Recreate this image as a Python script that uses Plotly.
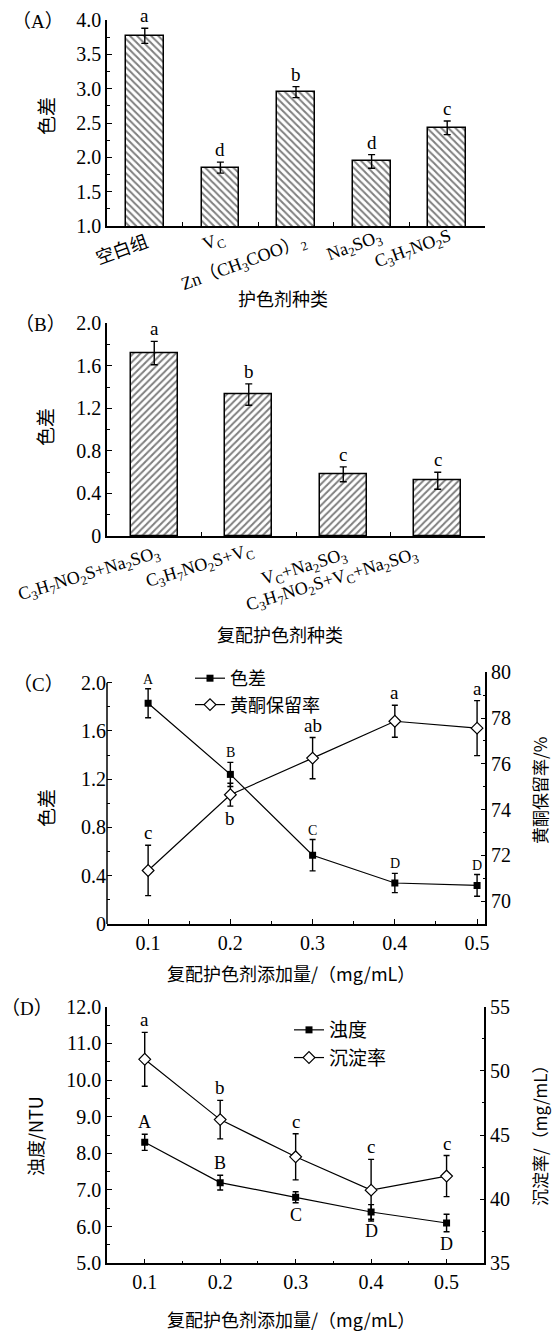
import plotly.graph_objects as go

W, H = 552, 1331
SERIF = "'Liberation Serif', 'Noto Sans CJK SC', serif"
CJK = "'Noto Sans CJK SC', 'Liberation Serif', sans-serif"

# (A) single colour-protecting agents
agents_a = ["空白组", "V<sub>C</sub>", "Zn（CH<sub>3</sub>COO）<sub>2</sub>",
            "Na<sub>2</sub>SO<sub>3</sub>", "C<sub>3</sub>H<sub>7</sub>NO<sub>2</sub>S"]
diff_a = [3.77, 1.85, 2.95, 1.94, 2.43]
err_a = [0.11, 0.08, 0.08, 0.10, 0.10]
sig_a = ["a", "d", "b", "d", "c"]

# (B) compound agents
agents_b = ["C<sub>3</sub>H<sub>7</sub>NO<sub>2</sub>S+Na<sub>2</sub>SO<sub>3</sub>",
            "C<sub>3</sub>H<sub>7</sub>NO<sub>2</sub>S+V<sub>C</sub>",
            "V<sub>C</sub>+Na<sub>2</sub>SO<sub>3</sub>",
            "C<sub>3</sub>H<sub>7</sub>NO<sub>2</sub>S+V<sub>C</sub>+Na<sub>2</sub>SO<sub>3</sub>"]
diff_b = [1.72, 1.33, 0.58, 0.52]
err_b = [0.11, 0.10, 0.07, 0.08]
sig_b = ["a", "b", "c", "c"]

# (C) and (D) dosage series, mg/mL
dose = [0.1, 0.2, 0.3, 0.4, 0.5]

diff_c = [1.83, 1.24, 0.57, 0.34, 0.32]
diff_c_err = [0.12, 0.10, 0.13, 0.08, 0.09]
diff_c_sig = ["A", "B", "C", "D", "D"]
flav_c = [71.34, 74.65, 76.25, 77.86, 77.56]
flav_c_err = [1.1, 0.5, 0.9, 0.7, 1.2]
flav_c_sig = ["c", "b", "ab", "a", "a"]

turb_d = [8.3, 7.2, 6.8, 6.4, 6.1]
turb_d_err = [0.22, 0.20, 0.15, 0.20, 0.24]
turb_d_sig = ["A", "B", "C", "D", "D"]
sed_d = [50.9, 46.2, 43.3, 40.7, 41.8]
sed_d_err = [2.1, 1.5, 1.8, 2.4, 1.6]
sed_d_sig = ["a", "b", "c", "c", "c"]

# tick labels
ticks_b = [0, 0.4, 0.8, 1.2, 1.6, 2.0]
ticktext_b = ["0", "0.4", "0.8", "1.2", "1.6", "2.0"]
ticks_c_right = [70, 72, 74, 76, 78, 80]
ticks_d_right = [35, 40, 45, 50, 55]


def px(x):
    return x / W


def py(y):
    return 1 - y / H


def err(arr, w=3.5):
    return dict(type="data", array=arr, color="black", thickness=1.4, width=w)


fig = go.Figure()

fig.add_trace(go.Bar(
    x=agents_a, y=diff_a, width=0.5, xaxis="x", yaxis="y", showlegend=False,
    marker=dict(color="white", line=dict(color="black", width=1.5),
                pattern=dict(shape="\\", fgcolor="black", bgcolor="white", size=5, solidity=0.4)),
    error_y=err(err_a)))

fig.add_trace(go.Bar(
    x=agents_b, y=diff_b, width=0.5, xaxis="x2", yaxis="y2", showlegend=False,
    marker=dict(color="white", line=dict(color="black", width=1.5),
                pattern=dict(shape="/", fgcolor="black", bgcolor="white", size=5, solidity=0.4)),
    error_y=err(err_b)))

sq = dict(symbol="square", size=7, color="black")
dm = dict(symbol="diamond", size=9, color="white", line=dict(color="black", width=1.2))
ln = dict(color="black", width=1.2)

fig.add_trace(go.Scatter(x=dose, y=diff_c, mode="lines+markers", name="色差",
                         line=ln, marker=sq, error_y=err(diff_c_err, 3),
                         xaxis="x3", yaxis="y3", legend="legend"))
fig.add_trace(go.Scatter(x=dose, y=flav_c, mode="lines+markers", name="黄酮保留率",
                         line=ln, marker=dm, error_y=err(flav_c_err, 3),
                         xaxis="x3", yaxis="y4", legend="legend"))
fig.add_trace(go.Scatter(x=dose, y=turb_d, mode="lines+markers", name="浊度",
                         line=ln, marker=sq, error_y=err(turb_d_err, 3),
                         xaxis="x4", yaxis="y5", legend="legend2"))
fig.add_trace(go.Scatter(x=dose, y=sed_d, mode="lines+markers", name="沉淀率",
                         line=ln, marker=dm, error_y=err(sed_d_err, 3),
                         xaxis="x4", yaxis="y6", legend="legend2"))

tickfont = dict(family=SERIF, size=20, color="black")
base = dict(showline=True, linecolor="black", linewidth=1.5, ticks="inside",
            tickcolor="black", tickwidth=1.2, ticklen=5, showgrid=False,
            zeroline=False, tickfont=tickfont, fixedrange=True, automargin=False)


def minor(d):
    return dict(dtick=d, ticks="inside", ticklen=3, tickcolor="black", tickwidth=1.2)


cat_x = dict(base, type="category", tickson="boundaries", ticklen=4, showticklabels=False)

# panel C: the left scale stops at 2.0 while the right one reaches 80
c_top, c_bot, c_left_top = 672.3, 924.0, 682.7
c_left_max = 2.0 * (c_bot - c_top) / (c_bot - c_left_top)

fig.update_layout(
    width=W, height=H, margin=dict(l=0, r=0, t=0, b=0),
    paper_bgcolor="white", plot_bgcolor="white", bargap=0,
    xaxis=dict(cat_x, domain=[px(107), px(485)], range=[-0.5, 4.5], anchor="y"),
    yaxis=dict(base, domain=[py(226), py(20)], range=[1, 4], dtick=0.5, tick0=1,
               tickformat=".1f", minor=minor(0.25), anchor="x"),
    xaxis2=dict(cat_x, domain=[px(107), px(485)], range=[-0.5, 3.5], anchor="y2"),
    yaxis2=dict(base, domain=[py(536), py(323.3)], range=[0, 2.0], tickvals=ticks_b,
                ticktext=ticktext_b, minor=minor(0.2), anchor="x2"),
    xaxis3=dict(base, domain=[px(107), px(485.3)], range=[0.05, 0.51], tickvals=dose,
                tickformat=".1f", minor=minor(0.05), anchor="y3"),
    yaxis3=dict(base, domain=[py(c_bot), py(c_top)], range=[0, c_left_max], tickvals=ticks_b,
                ticktext=ticktext_b, minor=dict(minor(0.2), tickvals=[0.2, 0.6, 1.0, 1.4, 1.8]),
                showline=False, anchor="x3"),
    yaxis4=dict(base, range=[69, 80], tickvals=ticks_c_right, minor=minor(1),
                side="right", overlaying="y3", anchor="x3"),
    xaxis4=dict(base, domain=[px(107), px(484.3)], range=[0.05, 0.55], tickvals=dose,
                tickformat=".1f", minor=minor(0.05), anchor="y5"),
    yaxis5=dict(base, domain=[py(1263.3), py(1006.7)], range=[5, 12], dtick=1, tick0=5,
                tickformat=".1f", minor=minor(0.5), anchor="x4"),
    yaxis6=dict(base, range=[35, 55], tickvals=ticks_d_right, minor=minor(2.5),
                side="right", overlaying="y5", anchor="x4"),
    legend=dict(x=px(190), y=py(660), xanchor="left", yanchor="top",
                font=dict(family=CJK, size=18, color="black"), bgcolor="rgba(0,0,0,0)",
                itemwidth=30, tracegroupgap=0),
    legend2=dict(x=px(289), y=py(1011), xanchor="left", yanchor="top",
                 font=dict(family=CJK, size=19, color="black"), bgcolor="rgba(0,0,0,0)",
                 itemwidth=30, tracegroupgap=0),
    shapes=[dict(type="line", xref="x3 domain", yref="y3", x0=0, x1=0, y0=0, y1=2.0,
                 line=dict(color="black", width=1.5))],
)

ann = []


def text(x, y, s, size=18, fam=SERIF, angle=0, xa="center", ya="middle",
         xref="paper", yref="paper", **kw):
    ann.append(dict(x=x, y=y, text=s, showarrow=False, xref=xref, yref=yref, xanchor=xa,
                    yanchor=ya, textangle=angle,
                    font=dict(family=fam, size=size, color="black"), **kw))


def cat_px(i, n, left, right):
    return left + (right - left) * (i + 0.5) / n


# slanted category labels, centred down-left of each bar
shift_a = [(-23, 250), (-7, 242), (-52, 263), (-17, 246), (-34, 249)]
for i, lab in enumerate(agents_a):
    dx, cy = shift_a[i]
    text(px(cat_px(i, len(agents_a), 107, 485) + dx), py(cy), lab, 18, SERIF, -20)

shift_b = [(-65, 575), (-49, 566), (-39, 567), (-106, 580)]
for i, lab in enumerate(agents_b):
    dx, cy = shift_b[i]
    text(px(cat_px(i, len(agents_b), 107, 485) + dx), py(cy), lab, 18, SERIF, -17)

# panel tags
text(px(66), py(21), "（A）", 19, xa="right")
text(px(68), py(324), "（B）", 19, xa="right")
text(px(66), py(684), "（C）", 19, xa="right")
text(px(55), py(1008), "（D）", 19, xa="right")

# axis titles
text(px(45), py(116), "色差", 19, CJK, angle=-90)
text(px(283), py(298), "护色剂种类", 18, CJK)
text(px(45), py(427), "色差", 19, CJK, angle=-90)
text(px(280), py(634), "复配护色剂种类", 18, CJK)
text(px(45), py(808), "色差", 19, CJK, angle=-90)
text(px(539), py(791), "黄酮保留率/%", 17, CJK, angle=-90)
text(px(291), py(973), "复配护色剂添加量/（mg/mL）", 18, CJK)
text(px(35), py(1136), "浊度/NTU", 18, CJK, angle=-90)
text(px(539), py(1131), "沉淀率/（mg/mL）", 17, CJK, angle=-90)
text(px(291), py(1319), "复配护色剂添加量/（mg/mL）", 18, CJK)

# significance letters
for lab, v, e, s in zip(agents_a, diff_a, err_a, sig_a):
    text(lab, v + e, s, 19, ya="bottom", xref="x", yref="y")
for lab, v, e, s in zip(agents_b, diff_b, err_b, sig_b):
    text(lab, v + e, s, 19, ya="bottom", xref="x2", yref="y2")
for x, v, e, s in zip(dose, diff_c, diff_c_err, diff_c_sig):
    text(x, v + e, s, 14, ya="bottom", xref="x3", yref="y3")
for x, v, e, s in zip(dose, flav_c, flav_c_err, flav_c_sig):
    if s == "b":
        text(x, v - e, s, 19, ya="top", xref="x3", yref="y4")
    else:
        text(x, v + e, s, 19, ya="bottom", xref="x3", yref="y4")
for x, v, e, s in zip(dose, turb_d, turb_d_err, turb_d_sig):
    if s in ("A", "B"):
        text(x, v + e, s, 18, ya="bottom", xref="x4", yref="y5")
    else:
        text(x, v - e, s, 18, ya="top", xref="x4", yref="y5")
for x, v, e, s in zip(dose, sed_d, sed_d_err, sed_d_sig):
    text(x, v + e, s, 19, ya="bottom", xref="x4", yref="y6")

fig.update_layout(annotations=ann)
fig.write_html("out.html")
